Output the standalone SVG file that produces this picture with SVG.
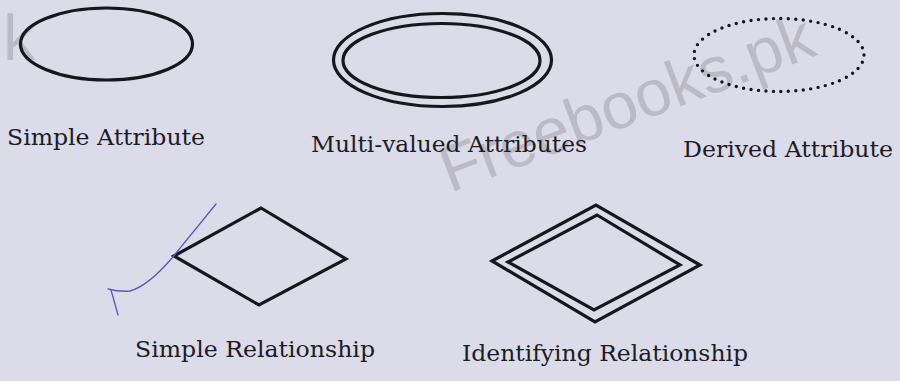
<svg xmlns="http://www.w3.org/2000/svg" width="900" height="381" viewBox="0 0 900 381">
<style>
.bg{fill:#dcdbea}
.sh{fill:none;stroke:#16161e;stroke-width:3.2;stroke-linejoin:miter}
.dot{fill:none;stroke:#16161e;stroke-width:3.4;stroke-linecap:round;stroke-dasharray:0 10}
.lbl{font-family:"DejaVu Serif","Liberation Serif",serif;fill:#1c1c24;font-size:22px}
.wm{font-family:"Liberation Sans",Arial,sans-serif;font-size:65px;fill:#bcbac7}
.pen{fill:none;stroke:#5a58b4;stroke-width:1.3;stroke-linecap:round;stroke-linejoin:round}
</style>
<rect class="bg" x="0" y="0" width="900" height="381"/>
<g id="watermark">
<text class="wm" x="3" y="60" font-size="50">k</text>
<text class="wm" x="450" y="193" transform="rotate(-20.6 450 193)">Freebooks.pk</text>
</g>
<g id="simple-attribute">
<ellipse class="sh" cx="106.5" cy="44" rx="86" ry="36"/>
<text class="lbl" x="7" y="145" textLength="198" lengthAdjust="spacingAndGlyphs">Simple Attribute</text>
</g>
<g id="multi-valued-attributes">
<ellipse class="sh" cx="442.5" cy="60" rx="109" ry="46.5"/>
<ellipse class="sh" cx="441.5" cy="60.5" rx="98.5" ry="37"/>
<text class="lbl" x="311" y="152" textLength="276" lengthAdjust="spacingAndGlyphs">Multi-valued Attributes</text>
</g>
<g id="derived-attribute">
<ellipse class="dot" cx="779" cy="55" rx="85" ry="36.5" pathLength="530"/>
<text class="lbl" x="683" y="157" textLength="210" lengthAdjust="spacingAndGlyphs">Derived Attribute</text>
</g>
<g id="simple-relationship">
<polygon class="sh" points="174,256 261,208 346,259 259,305"/>
<text class="lbl" x="135" y="357" textLength="240" lengthAdjust="spacingAndGlyphs">Simple Relationship</text>
</g>
<g id="identifying-relationship">
<polygon class="sh" points="492,261 596,205 700,265 595,322"/>
<polygon class="sh" points="508,262 597,215 680,265 594,310"/>
<text class="lbl" x="462" y="361" textLength="286" lengthAdjust="spacingAndGlyphs">Identifying Relationship</text>
</g>
<g id="pen-mark">
<path class="pen" d="M216,204 L172,258 Q148,286 130,291 Q120,292 108,289"/>
<path class="pen" d="M111,290 L118,315"/>
</g>
<g id="connectors"></g>
</svg>
